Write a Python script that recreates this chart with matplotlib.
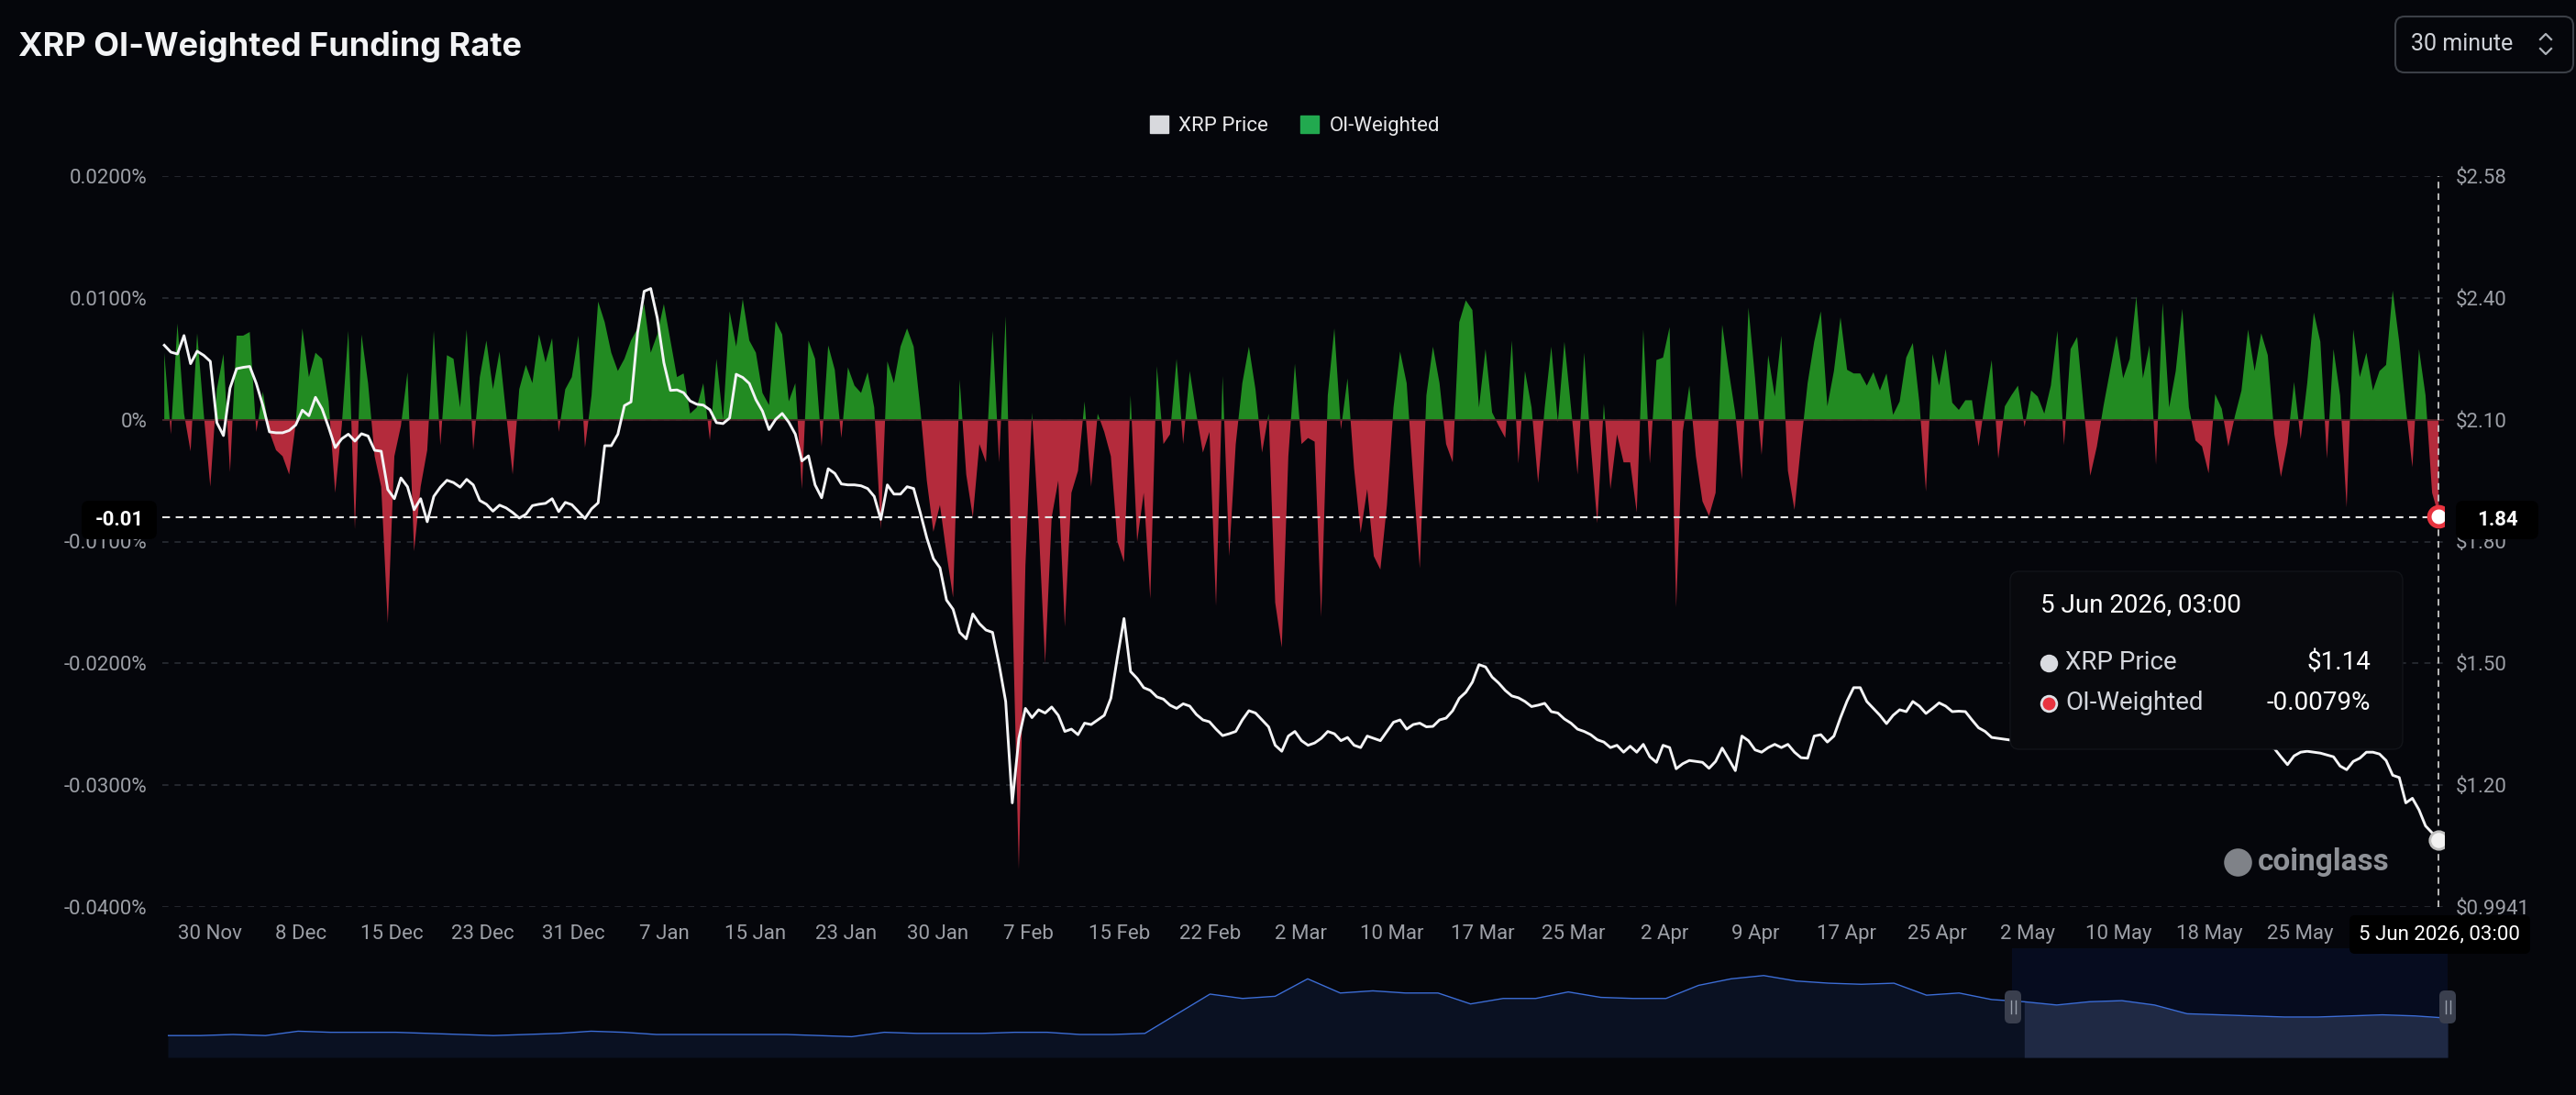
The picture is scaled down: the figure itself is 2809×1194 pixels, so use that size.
import numpy as np
import matplotlib
matplotlib.use("Agg")
import matplotlib.pyplot as plt
from matplotlib import transforms
from matplotlib.lines import Line2D
from matplotlib.patches import FancyBboxPatch, Patch

W, H = 2809, 1194
BG = "#05060b"
GREEN = "#228b22"
RED = "#b42b3c"
GRID = "#2a2d34"
TICK = "#9c9fa6"

plt.rcParams["font.family"] = ["Roboto", "DejaVu Sans"]

# OI-weighted funding rate, in units of 0.0001 %
funding_raw = [
    55, -12, 79, 5, -26, 71, 5, -55, 25, 54,
    -43, 69, 69, 72, -10, 23, -10, -25, -30, -45,
    -3, 75, 35, 55, 50, 15, -60, -5, 73, -90,
    70, 30, -30, -55, -167, -30, -5, 39, -108, -55,
    -25, 73, -21, 53, 50, 10, 74, -25, 35, 65,
    25, 56, 5, -45, 25, 45, 30, 70, 47, 67,
    -10, 25, 35, 69, -23, 20, 97, 80, 55, 40,
    50, 65, 75, 95, 55, 70, 95, 65, 35, 38,
    5, 10, 30, -17, 50, 0, 89, 60, 99, 65,
    55, 22, 12, 81, 70, 15, 30, -57, 65, 50,
    -22, 61, 41, -15, 43, 28, 22, 39, 10, -90,
    48, 30, 60, 75, 60, 10, -50, -92, -70, -110,
    -146, 33, -45, -80, -20, -35, 73, -35, 85, -150,
    -369, -120, 6, -85, -200, -80, -50, -170, -60, -42,
    15, -55, 5, -10, -30, -100, -117, 20, -100, -60,
    -147, 44, -20, -12, 50, -20, 40, 5, -27, -10,
    -153, 36, -112, -20, 30, 60, 25, -27, 5, -150,
    -187, -30, 46, -20, -15, -18, -162, 20, 75, -8,
    34, -40, -93, -57, -112, -123, -70, 10, 56, 30,
    -48, -122, 20, 60, 30, -20, -35, 80, 98, 90,
    10, 58, 6, -5, -15, 65, -36, 40, 10, -52,
    10, 60, -2, 64, 10, -45, 55, -20, -85, 13,
    -57, -12, -35, -35, -76, 74, -36, 49, 51, 76,
    -154, -10, 28, -30, -67, -79, -60, 78, 40, 5,
    -49, 92, 34, -29, 53, 19, 69, -42, -74, -20,
    30, 64, 89, 11, 40, 84, 41, 38, 38, 28,
    39, 24, 38, 4, 15, 51, 63, 14, -59, 54,
    28, 58, 14, 8, 16, 16, -22, 15, 49, -32,
    11, 20, 28, -6, 24, 19, 5, 28, 73, -21,
    58, 68, 10, -46, -22, 11, 40, 69, 34, 50,
    101, 34, 61, -37, 96, 10, 40, 91, 10, -17,
    -22, -44, 21, 9, -22, 3, 24, 74, 40, 71,
    53, -12, -47, -19, 31, -16, 30, 88, 64, -32,
    58, 20, -72, 74, 35, 55, 24, 40, 45, 106,
    64, 10, -39, 58, 20, -60, -79,
]

# XRP price in USD, same sampling as the funding rate
price = [
    2.213, 2.198, 2.194, 2.234, 2.173, 2.200, 2.191, 2.178, 2.045, 2.017,
    2.120, 2.162, 2.165, 2.167, 2.130, 2.082, 2.025, 2.023, 2.023, 2.028,
    2.040, 2.072, 2.060, 2.100, 2.075, 2.035, 1.991, 2.010, 2.020, 2.005,
    2.021, 2.016, 1.985, 1.983, 1.900, 1.880, 1.925, 1.906, 1.856, 1.880,
    1.830, 1.885, 1.905, 1.920, 1.915, 1.905, 1.922, 1.910, 1.876, 1.868,
    1.853, 1.866, 1.860, 1.850, 1.838, 1.846, 1.865, 1.868, 1.870, 1.880,
    1.852, 1.872, 1.867, 1.852, 1.837, 1.858, 1.871, 1.995, 1.995, 2.020,
    2.082, 2.090, 2.240, 2.330, 2.336, 2.272, 2.175, 2.115, 2.116, 2.110,
    2.092, 2.085, 2.083, 2.073, 2.045, 2.043, 2.055, 2.150, 2.143, 2.130,
    2.095, 2.070, 2.030, 2.052, 2.065, 2.046, 2.020, 1.962, 1.973, 1.910,
    1.882, 1.945, 1.935, 1.912, 1.910, 1.910, 1.908, 1.902, 1.885, 1.835,
    1.910, 1.890, 1.890, 1.906, 1.902, 1.850, 1.795, 1.750, 1.730, 1.660,
    1.640, 1.590, 1.576, 1.630, 1.609, 1.595, 1.590, 1.520, 1.440, 1.220,
    1.360, 1.425, 1.405, 1.422, 1.415, 1.428, 1.410, 1.375, 1.380, 1.368,
    1.393, 1.390, 1.400, 1.410, 1.447, 1.536, 1.620, 1.505, 1.490, 1.470,
    1.464, 1.450, 1.445, 1.432, 1.425, 1.435, 1.430, 1.412, 1.400, 1.396,
    1.380, 1.366, 1.370, 1.375, 1.400, 1.420, 1.415, 1.400, 1.385, 1.345,
    1.332, 1.365, 1.375, 1.355, 1.345, 1.350, 1.360, 1.375, 1.370, 1.355,
    1.362, 1.345, 1.340, 1.365, 1.360, 1.355, 1.375, 1.395, 1.400, 1.380,
    1.390, 1.393, 1.385, 1.386, 1.400, 1.404, 1.420, 1.447, 1.460, 1.482,
    1.520, 1.515, 1.493, 1.480, 1.464, 1.452, 1.448, 1.440, 1.429, 1.432,
    1.436, 1.418, 1.415, 1.402, 1.393, 1.380, 1.375, 1.368, 1.357, 1.352,
    1.340, 1.345, 1.330, 1.343, 1.330, 1.347, 1.320, 1.308, 1.345, 1.340,
    1.294, 1.305, 1.312, 1.310, 1.308, 1.295, 1.310, 1.339, 1.315, 1.290,
    1.365, 1.355, 1.335, 1.330, 1.340, 1.347, 1.340, 1.347, 1.330, 1.318,
    1.317, 1.365, 1.368, 1.352, 1.365, 1.405, 1.441, 1.470, 1.470, 1.440,
    1.425, 1.410, 1.392, 1.410, 1.422, 1.418, 1.440, 1.430, 1.414, 1.425,
    1.437, 1.430, 1.418, 1.419, 1.418, 1.400, 1.383, 1.375, 1.362, 1.360,
    1.358, 1.356, 1.352, 1.350, 1.358, 1.365, 1.356, 1.350, 1.354, 1.360,
    1.368, 1.375, 1.370, 1.360, 1.352, 1.348, 1.345, 1.350, 1.356, 1.352,
    1.348, 1.352, 1.358, 1.362, 1.356, 1.350, 1.347, 1.352, 1.358, 1.355,
    1.350, 1.346, 1.350, 1.356, 1.360, 1.356, 1.352, 1.348, 1.345, 1.344,
    1.342, 1.338, 1.320, 1.303, 1.322, 1.330, 1.332, 1.330, 1.328, 1.324,
    1.320, 1.300, 1.292, 1.310, 1.317, 1.330, 1.330, 1.326, 1.312, 1.280,
    1.275, 1.220, 1.230, 1.205, 1.170, 1.155, 1.140,
]

# overview series in the range slider (relative height)
nav_series = [
    0.20, 0.20, 0.21, 0.20, 0.24, 0.23, 0.23, 0.23, 0.22, 0.21,
    0.20, 0.21, 0.22, 0.24, 0.23, 0.21, 0.21, 0.21, 0.21, 0.21,
    0.20, 0.19, 0.23, 0.22, 0.22, 0.22, 0.23, 0.23, 0.21, 0.21,
    0.22, 0.40, 0.58, 0.54, 0.56, 0.72, 0.59, 0.61, 0.59, 0.59,
    0.49, 0.54, 0.54, 0.60, 0.55, 0.54, 0.54, 0.66, 0.72, 0.75,
    0.70, 0.68, 0.67, 0.68, 0.57, 0.59, 0.53, 0.51, 0.48, 0.51,
    0.52, 0.48, 0.40, 0.39, 0.38, 0.37, 0.37, 0.38, 0.39, 0.38, 0.36,
]
nav_window = (0.809, 1.0)

date_labels = ["30 Nov", "8 Dec", "15 Dec", "23 Dec", "31 Dec", "7 Jan", "15 Jan",
               "23 Jan", "30 Jan", "7 Feb", "15 Feb", "22 Feb", "2 Mar", "10 Mar",
               "17 Mar", "25 Mar", "2 Apr", "9 Apr", "17 Apr", "25 Apr", "2 May",
               "10 May", "18 May", "25 May"]
rate_ticks = [-0.04, -0.03, -0.02, -0.01, 0.0, 0.01, 0.02]
rate_tick_labels = ["-0.0400%", "-0.0300%", "-0.0200%", "-0.0100%", "0%", "0.0100%", "0.0200%"]
price_min, price_max = 0.9941, 2.58
price_tick_labels = ["$0.9941", "$1.20", "$1.50", "$1.80", "$2.10", "$2.40", "$2.58"]
last_time = "5 Jun 2026, 03:00"
cursor_price = 1.84
cursor_rate_text = "-0.01"

rate = np.array(funding_raw) * 1e-4
price = np.array(price)
x = np.arange(len(rate))

fig = plt.figure(figsize=(W / 100, H / 100), dpi=100, facecolor=BG)
PIX = transforms.IdentityTransform()


def box(x0, y0, x1, y1, fc, ec="none", r=8, z=5, lw=1.0):
    # rounded box in image pixels, measured from the top-left corner
    p = FancyBboxPatch((x0, H - y1), x1 - x0, y1 - y0,
                       boxstyle=f"round,pad=0,rounding_size={r}",
                       transform=PIX, fc=fc, ec=ec, lw=lw, zorder=z)
    fig.add_artist(p)


# main chart: funding area on ax, price line on the twin axis above it
ax = fig.add_axes([177 / W, 1 - 989 / H, (2665 - 177) / W, (989 - 192) / H])
ax.set_facecolor(BG)
ax.fill_between(x, rate, 0, where=rate >= 0, interpolate=True, color=GREEN, lw=0, zorder=2)
ax.fill_between(x, rate, 0, where=rate <= 0, interpolate=True, color=RED, lw=0, zorder=2)
ax.axhline(0, color="#4c2228", lw=1.2, zorder=3)
ax.set_xlim(-0.3, len(x) - 1 + 0.8)
ax.set_ylim(-0.04, 0.02)
ax.set_yticks(rate_ticks)
ax.set_yticklabels(rate_tick_labels)
ax.set_xticks(np.linspace(7, 325, len(date_labels)))
ax.set_xticklabels(date_labels)
ax.tick_params(axis="y", length=0, pad=12, labelsize=16, labelcolor=TICK)
ax.tick_params(axis="x", length=0, pad=14, labelsize=16, labelcolor=TICK)
for yv in rate_ticks:
    ax.axhline(yv, color=GRID, lw=1.2, ls=(0, (4, 4)), zorder=1)
for s in ax.spines.values():
    s.set_visible(False)

ax2 = ax.twinx()
ax2.set_ylim(price_min, price_max)
ax2.plot(x, price, color="#f4f4f6", lw=2.1, zorder=4)
ax2.set_yticks(np.linspace(price_min, price_max, len(price_tick_labels)))
ax2.set_yticklabels(price_tick_labels)
ax2.tick_params(axis="y", length=0, pad=9, labelsize=16, labelcolor=TICK)
for s in ax2.spines.values():
    s.set_visible(False)
ax.set_zorder(1)
ax2.set_zorder(2)
ax2.patch.set_visible(False)

# crosshair and hover markers
ax2.axhline(cursor_price, color="#e6e6e6", lw=1.5, ls=(0, (4, 3)), zorder=5)
ax2.axvline(x[-1], color="#c8c8c8", lw=1.3, ls=(0, (4, 3)), zorder=5)
ax2.plot(x[-1], price[-1], "o", ms=14, mfc="#f2f2f2", mec="#bfbfbf", mew=2, zorder=7)
ax2.plot(x[-1], price_min + (rate[-1] + 0.04) / 0.06 * (price_max - price_min), "o",
         ms=15, mfc="#ffffff", mec="#e8333f", mew=3.5, zorder=7)

box(89, 546, 171, 588, "#000000", r=8, z=6)
fig.text(130 / W, 1 - 567 / H, cursor_rate_text, color="white", fontsize=16,
         weight="bold", ha="center", va="center", zorder=7)
box(2678, 546, 2768, 588, "#000000", r=8, z=6)
fig.text(2723 / W, 1 - 567 / H, f"{cursor_price:.2f}", color="white", fontsize=16,
         weight="bold", ha="center", va="center", zorder=7)

box(2562, 998, 2759, 1040, "#000000", r=6, z=6)
fig.text(2660 / W, 1 - 1019 / H, last_time, color="white", fontsize=16,
         ha="center", va="center", zorder=7)

# tooltip
box(2192, 623, 2620, 817, "#08090d", ec="#121419", r=10, z=6)
fig.text(2225 / W, 1 - 660 / H, last_time, color="white", fontsize=20,
         ha="left", va="center", zorder=7)
rows = [("XRP Price", f"${price[-1]:.2f}", "#d9dbe0", "#d9dbe0"),
        ("OI-Weighted", f"{rate[-1]:.4f}%", "#e8333f", "#dfe1e6")]
for i, (lab, val, c, ec) in enumerate(rows):
    yy = 1 - (723 + 44 * i) / H
    fig.add_artist(Line2D([2234 / W], [yy], marker="o", ms=12, mfc=c, mec=ec,
                          mew=2, transform=fig.transFigure, zorder=7))
    fig.text(2252 / W, yy, lab, color="#d3d6dc", fontsize=20, ha="left", va="center", zorder=7)
    fig.text(2585 / W, yy, val, color="white", fontsize=20, ha="right", va="center", zorder=7)

# watermark
fig.text(2462 / W, 1 - 940 / H, "coinglass", color="#8e9197", fontsize=24,
         weight="bold", ha="left", va="center", zorder=7)
fig.add_artist(Line2D([2440 / W], [1 - 940 / H], marker="o", ms=22, mfc="#7f8288",
                      mec="none", transform=fig.transFigure, zorder=7))

# title, legend, interval selector
fig.text(20 / W, 1 - 50 / H, "XRP OI-Weighted Funding Rate", color="#f2f3f5",
         fontsize=26, weight="bold", family=["Inter", "DejaVu Sans"], va="center")
handles = [Patch(color="#d8d9dd"), Patch(color="#22a94f")]
fig.legend(handles, ["XRP Price", "OI-Weighted"], loc="center",
           bbox_to_anchor=(1412 / W, 1 - 137 / H), ncol=2, frameon=False,
           fontsize=16, labelcolor="#e8e8ea", handlelength=0.9, handleheight=0.9,
           handletextpad=0.5, columnspacing=1.6)

box(2612, 18, 2806, 79, BG, ec="#3b3f46", r=10, z=5, lw=1.5)
fig.text(2629 / W, 1 - 48 / H, "30 minute", color="#cfd2d8", fontsize=18,
         ha="left", va="center", zorder=7)
fig.add_artist(Line2D([2770 / W, 2776 / W, 2782 / W], [1 - 43 / H, 1 - 37 / H, 1 - 43 / H],
                      color="#aeb2b9", lw=1.6, transform=fig.transFigure, zorder=7))
fig.add_artist(Line2D([2770 / W, 2776 / W, 2782 / W], [1 - 53 / H, 1 - 59 / H, 1 - 53 / H],
                      color="#aeb2b9", lw=1.6, transform=fig.transFigure, zorder=7))

# range slider
nav = fig.add_axes([183 / W, 1 - 1153 / H, (2669 - 183) / W, (1153 - 1034) / H])
nav.set_facecolor(BG)
nx = np.linspace(0, 1, len(nav_series))
ns = np.array(nav_series)
nav.fill_between(nx, ns, 0, color="#0a1122", lw=0)
sel = nx >= nav_window[0] - 1e-9
nav.axvspan(nav_window[0], nav_window[1], color="#060c1f", lw=0, zorder=0.5)
nav.fill_between(nx, ns, 0, where=sel, color="#1f2944", lw=0, zorder=1)
nav.plot(nx, ns, color="#3c6dd6", lw=1.0, zorder=2)
nav.set_xlim(0, 1)
nav.set_ylim(0, 1)
nav.axis("off")

for hx in (2195, 2669):
    box(hx - 9, 1080, hx + 9, 1116, "#3a3f4e", r=6, z=6)
    for dx in (-2.5, 2.5):
        fig.add_artist(Line2D([(hx + dx) / W] * 2, [1 - 1091 / H, 1 - 1105 / H],
                              color="#9aa0ad", lw=1.0, transform=fig.transFigure, zorder=7))

fig.savefig("out.png", dpi=100, facecolor=BG)
